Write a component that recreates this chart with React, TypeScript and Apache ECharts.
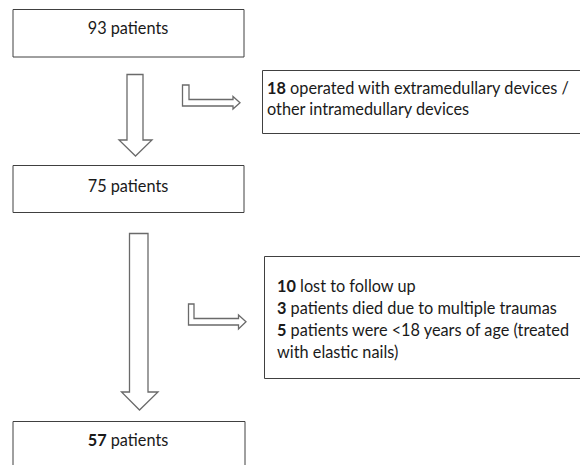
import React, { useEffect, useRef } from "react";
import * as echarts from "echarts";

// ---- data ----
const stageCounts = [93, 75, 57];
const stageUnit = "patients";
const stageCountBold = [false, false, true];
const exclusion1Counts = [18];
const exclusion1Reasons = ["operated with extramedullary devices /\nother intramedullary devices"];
const exclusion2Counts = [10, 3, 5];
const exclusion2Reasons = [
  "lost to follow up",
  "patients died due to multiple traumas",
  "patients were <18 years of age (treated\nwith elastic nails)",
];

const FONT = "Lato, 'Open Sans', sans-serif";
const FS = 16.3;
const TEXT_COLOR = "#1a1a1a";
const BOX_STROKE = "#404040";
const ARROW_STROKE = "#6a6a6a";

function downArrow(sl: number, sr: number, top: number, headTop: number, hl: number, hr: number, tipX: number, tipY: number) {
  return {
    type: "polygon",
    shape: {
      points: [
        [sl, top], [sr, top], [sr, headTop], [hr, headTop], [tipX, tipY], [hl, headTop], [sl, headTop],
      ],
    },
    style: { fill: "#fff", stroke: ARROW_STROKE, lineWidth: 1.3 },
  };
}

function bentArrow(x1: number, x2: number, top: number, hTop: number, hBot: number, shaftEnd: number, headTop: number, headBot: number, tip: number) {
  const mid = (hTop + hBot) / 2;
  return {
    type: "polygon",
    shape: {
      points: [
        [x1, top], [x2, top], [x2, hTop], [shaftEnd, hTop], [shaftEnd, headTop], [tip, mid],
        [shaftEnd, headBot], [shaftEnd, hBot], [x1, hBot],
      ],
    },
    style: { fill: "#fff", stroke: ARROW_STROKE, lineWidth: 1.3 },
  };
}

function box(x: number, y: number, w: number, h: number) {
  return {
    type: "rect",
    shape: { x, y, width: w, height: h },
    style: { fill: "#fff", stroke: BOX_STROKE, lineWidth: 1 },
  };
}

function stageText(i: number, cx: number, cy: number) {
  const c = stageCountBold[i] ? `{b|${stageCounts[i]}}` : `{n|${stageCounts[i]}}`;
  return {
    type: "text",
    x: cx,
    y: cy,
    style: {
      text: `${c}{n| ${stageUnit}}`,
      align: "center",
      verticalAlign: "middle",
      rich: {
        b: { fontFamily: FONT, fontSize: FS, fontWeight: "bold", fill: TEXT_COLOR },
        n: { fontFamily: FONT, fontSize: FS, fill: TEXT_COLOR },
      },
    },
  };
}

function reasonText(counts: number[], reasons: string[], x: number, y: number, lh: number) {
  const parts: string[] = [];
  counts.forEach((c, i) => {
    const lines = reasons[i].split("\n");
    parts.push(`{b|${c}}{n| ${lines[0]}}`);
    for (let k = 1; k < lines.length; k++) parts.push(`{n|${lines[k]}}`);
  });
  return {
    type: "text",
    x,
    y,
    style: {
      text: parts.join("\n"),
      align: "left",
      verticalAlign: "top",
      lineHeight: lh,
      rich: {
        b: { fontFamily: FONT, fontSize: FS, fontWeight: "bold", fill: TEXT_COLOR, lineHeight: lh },
        n: { fontFamily: FONT, fontSize: FS, fill: TEXT_COLOR, lineHeight: lh },
      },
    },
  };
}

export default function App() {
  const ref = useRef<HTMLDivElement>(null);
  useEffect(() => {
    if (!ref.current) return;
    const chart = echarts.init(ref.current, null, { renderer: "svg" });
    chart.setOption({
      animation: false,
      backgroundColor: "#fff",
      graphic: [
        box(13, 9.5, 231, 47.5),
        stageText(0, 128, 27),
        downArrow(127, 143, 74.5, 140, 119, 152, 135.5, 156),
        bentArrow(182.5, 189, 85, 99.5, 106, 233, 96.5, 109, 240),
        box(262.5, 70.5, 330, 63),
        reasonText(exclusion1Counts, exclusion1Reasons, 267, 77, 21),
        box(13, 165.5, 231, 47),
        stageText(1, 128, 185),
        downArrow(129.5, 148, 233.5, 392, 121.5, 158, 139.5, 410),
        bentArrow(188.5, 194, 304, 318.5, 325, 238.5, 315, 329, 246),
        box(264.5, 256.5, 330, 122),
        reasonText(exclusion2Counts, exclusion2Reasons, 277, 274, 22.2),
        box(13, 421.5, 232, 60),
        stageText(2, 128, 439),
      ],
    });
    return () => chart.dispose();
  }, []);
  return (
    <div
      ref={ref}
      style={{ position: "fixed", left: 0, top: 0, width: 580, height: 465, background: "#fff" }}
    />
  );
}
